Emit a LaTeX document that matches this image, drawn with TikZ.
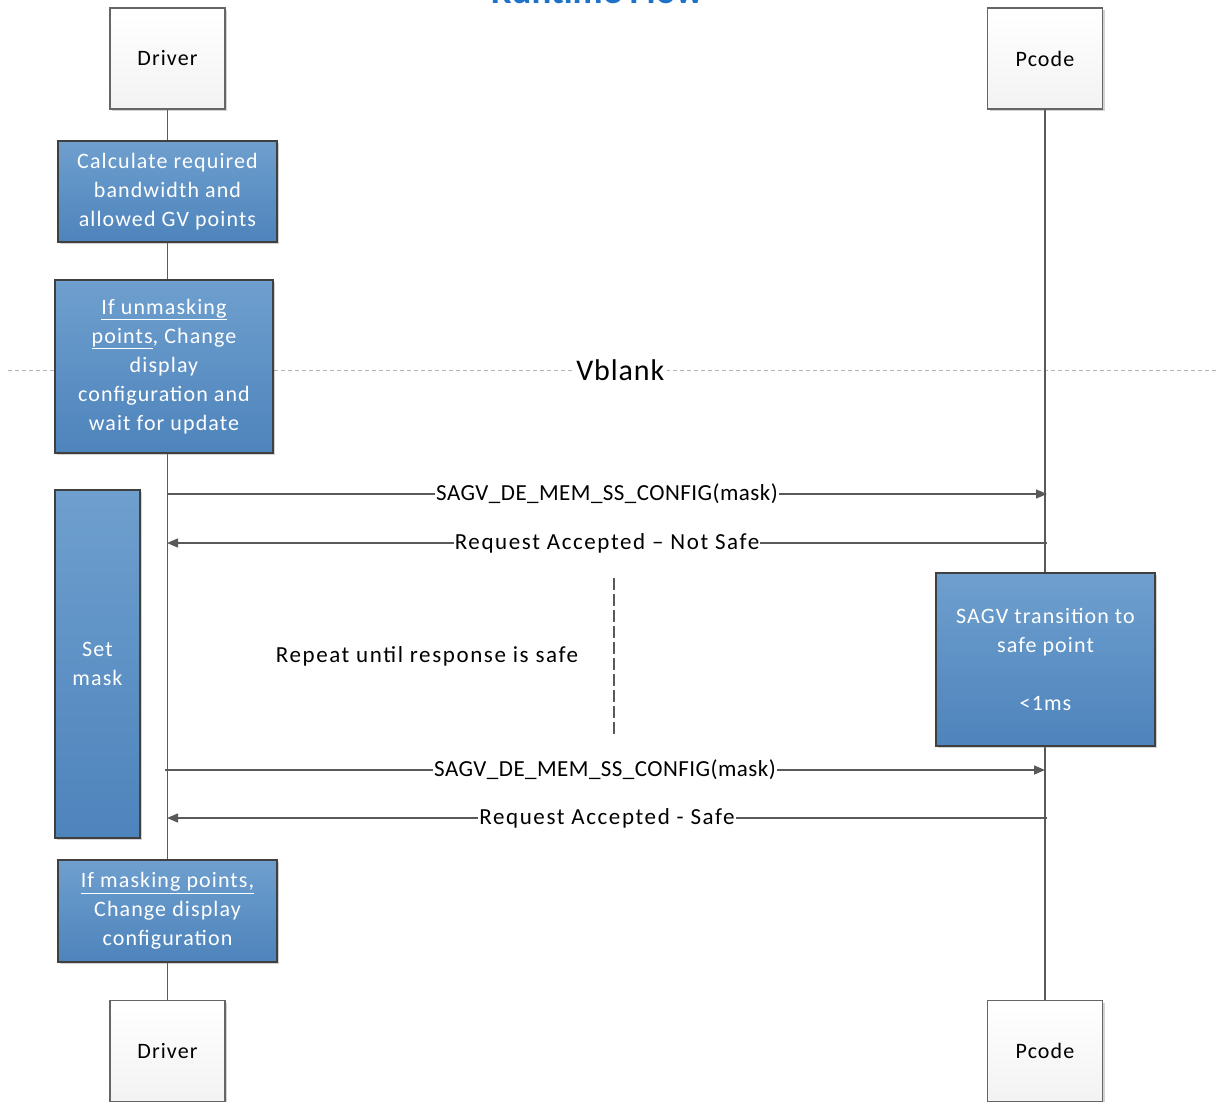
\documentclass[tikz,border=0pt]{standalone}
\usepackage{fontspec}
\setmainfont{Carlito}
\usetikzlibrary{arrows.meta,shadows}
\definecolor{lineC}{HTML}{595959}
\definecolor{boxTop}{HTML}{6E9FCE}
\definecolor{boxBot}{HTML}{4E84BC}
\definecolor{boxEdge}{HTML}{404040}
\definecolor{titleC}{HTML}{1E73C8}
\definecolor{vbC}{HTML}{B4B4B4}
\newcommand{\ls}[1]{\addfontfeature{LetterSpace=#1}}
\begin{document}
\begin{tikzpicture}[x=1pt,y=-1pt,
  shad/.style={drop shadow={shadow xshift=2pt,shadow yshift=-2pt,opacity=0.35,fill=gray}},
  part/.style={draw=gray!80!black, line width=1.8pt, top color=white, bottom color=gray!10,
    minimum width=115pt, minimum height=101pt, inner sep=0pt,
    font=\fontsize{22}{24}\selectfont\ls{5}, shad},
  act/.style={draw=boxEdge, line width=1.3pt, top color=boxTop, bottom color=boxBot,
    text=white, align=center, inner sep=0pt, font=\fontsize{22}{29}\selectfont\ls{5}, shad},
  life/.style={lineC, line width=1.4pt},
  msg/.style={lineC, line width=1.4pt, -{Triangle[length=11pt,width=9pt]}},
  lbl/.style={fill=white, inner sep=1pt, font=\fontsize{23}{24}\selectfont\ls{7}, text=black},
  lblc/.style={fill=white, inner sep=1pt, font=\fontsize{23}{24}\selectfont\ls{2}, text=black}]
\useasboundingbox (0,0) rectangle (1220,1101);

% title (cut off at top)
\node[font=\bfseries\fontsize{37}{40}\selectfont, text=titleC, anchor=base] (title) at (597,3) {Runtime Flow};

% Vblank line
\coordinate (vbl) at (8,370);
\coordinate (vbr) at (1218,370);
\draw[vbC, line width=1pt, dash pattern=on 4pt off 3pt] (vbl) -- node[fill=white, inner sep=3pt, font=\fontsize{30}{32}\selectfont\ls{3}, text=black, pos=0.506] (vb) {Vblank} (vbr);

% participants
\node[part] (dtop) at (167.5,58.5) {Driver};
\node[part] (ptop) at (1045,58.5) {Pcode};
\node[part] (dbot) at (167.5,1051) {Driver};
\node[part] (pbot) at (1045,1051) {Pcode};

% lifelines
\draw[life] (dtop.south) -- (dbot.north);
\draw[life] (ptop.south) -- (pbot.north);

% activity boxes
\node[act, minimum width=219pt, minimum height=101pt] (calc) at (167.5,191.5)
  {Calculate required\\bandwidth and\\allowed GV points};
\node[act, minimum width=218pt, minimum height=173pt] (unmask) at (164,366.5)
  {\underline{If unmasking}\\\underline{points}, Change\\display\\configuration and\\wait for update};
\node[act, minimum width=85pt, minimum height=348pt] (setmask) at (97.5,664)
  {Set\\mask};
\node[act, minimum width=219pt, minimum height=173pt] (sagv) at (1045.5,659.5)
  {SAGV transition to\\safe point\\[29pt]<1ms};
\node[act, minimum width=219pt, minimum height=102pt] (mask) at (167.5,911)
  {\underline{If masking points,}\\Change display\\configuration};

% messages
\coordinate (d1) at (167,494);   \coordinate (p1) at (1047,494);
\coordinate (d2) at (167,543);   \coordinate (p2) at (1047,543);
\coordinate (d3) at (165,770);   \coordinate (p3) at (1045,770);
\coordinate (d4) at (167,818);   \coordinate (p4) at (1047,818);
\draw[msg] (d1) -- node[lblc] (m1) {SAGV\_DE\_MEM\_SS\_CONFIG(mask)} (p1);
\draw[msg] (p2) -- node[lbl] (m2) {Request Accepted -- Not Safe} (d2);
\draw[msg] (d3) -- node[lblc] (m3) {SAGV\_DE\_MEM\_SS\_CONFIG(mask)} (p3);
\draw[msg] (p4) -- node[lbl] (m4) {Request Accepted - Safe} (d4);

% repeat loop
\coordinate (rt) at (614,578);
\coordinate (rb) at (614,735);
\draw[lineC, line width=1.2pt, dash pattern=on 12pt off 4pt] (rt) -- (rb);
\node[font=\fontsize{23}{24}\selectfont\ls{7}] (rep) at (427,656) {Repeat until response is safe};
\end{tikzpicture}
\end{document}
